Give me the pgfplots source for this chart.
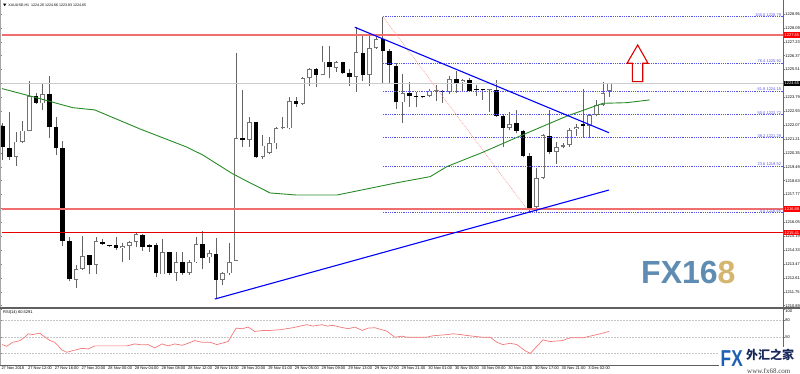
\documentclass[border=0pt]{standalone}
\usepackage{fontspec}
\setmainfont{Liberation Sans}
\newfontfamily\cjk{Noto Sans CJK SC}
\newfontfamily\serifw{Liberation Serif}
\usepackage{pgfplots}
\usepackage{pgfplotstable}
\pgfplotsset{compat=1.18}

\definecolor{wick}{RGB}{100,100,100}
\definecolor{bullline}{RGB}{115,115,115}
\definecolor{maGreen}{RGB}{40,140,40}
\definecolor{fibblue}{RGB}{85,85,235}
\definecolor{rsired}{RGB}{245,120,120}
\definecolor{lred}{RGB}{240,110,110}
\definecolor{fxblue}{RGB}{95,140,178}
\definecolor{fxgold}{RGB}{212,182,112}
\definecolor{logoblue}{RGB}{30,95,180}
\definecolor{logonavy}{RGB}{25,40,90}

\pgfplotstableread{
i O H L C
0 1222.04 1222.18 1219.91 1220.69
1 1220.63 1222.90 1219.91 1220.08
2 1220.08 1221.62 1219.54 1221.05
3 1221.05 1222.33 1220.94 1221.73
4 1221.73 1224.80 1221.73 1223.87
5 1223.87 1224.04 1223.38 1223.42
6 1223.42 1224.62 1223.01 1224.00
7 1224.00 1225.11 1221.25 1221.93
8 1221.97 1222.55 1220.22 1220.63
9 1220.63 1221.09 1214.59 1214.89
10 1214.89 1215.12 1212.40 1212.52
11 1212.48 1213.41 1211.96 1213.16
12 1213.16 1215.23 1213.10 1213.97
13 1214.01 1214.05 1212.85 1213.41
14 1213.41 1215.16 1212.85 1214.89
15 1214.85 1215.02 1214.65 1214.71
16 1214.59 1214.61 1214.54 1214.58
17 1214.65 1215.12 1214.34 1214.48
18 1214.46 1214.75 1213.62 1214.59
19 1214.59 1214.92 1213.72 1214.83
20 1214.83 1215.43 1214.50 1215.33
21 1215.27 1215.33 1214.28 1214.54
22 1214.65 1214.71 1214.23 1214.54
23 1214.65 1214.75 1212.64 1212.89
24 1212.83 1215.00 1212.83 1214.19
25 1214.19 1214.23 1212.79 1212.93
26 1212.93 1214.19 1212.44 1213.57
27 1213.57 1214.19 1212.79 1212.93
28 1212.93 1213.72 1212.79 1213.57
29 1213.57 1215.12 1213.55 1214.71
30 1214.69 1215.52 1213.14 1213.86
31 1213.88 1214.34 1213.51 1214.13
32 1214.09 1215.10 1211.28 1212.48
33 1212.48 1213.00 1212.17 1212.89
34 1212.89 1214.75 1212.79 1213.61
35 1213.66 1226.52 1213.66 1221.29
36 1221.29 1224.25 1220.74 1221.15
37 1221.15 1222.55 1220.74 1222.24
38 1222.24 1222.29 1220.05 1220.08
39 1220.12 1221.46 1219.97 1220.80
40 1220.33 1221.36 1220.28 1220.94
41 1220.94 1221.98 1220.59 1221.91
42 1221.87 1222.55 1221.81 1221.91
43 1221.87 1223.79 1221.81 1223.57
44 1223.59 1223.79 1223.17 1223.38
45 1223.36 1225.07 1223.32 1224.97
46 1224.97 1225.59 1224.49 1225.53
47 1225.53 1225.59 1224.41 1225.18
48 1225.18 1226.99 1225.18 1226.00
49 1225.96 1226.97 1224.97 1225.65
50 1225.59 1226.06 1225.38 1225.96
51 1225.96 1226.00 1225.24 1225.32
52 1225.28 1225.53 1224.49 1225.07
53 1225.07 1228.13 1224.14 1226.58
54 1226.56 1227.59 1224.82 1225.18
55 1225.18 1227.59 1224.49 1226.83
56 1226.83 1227.51 1226.79 1227.38
57 1227.38 1228.79 1224.62 1226.68
58 1226.68 1226.76 1224.62 1225.79
59 1225.75 1225.90 1223.07 1223.48
60 1223.48 1225.24 1222.22 1224.04
61 1224.04 1224.72 1223.21 1223.87
62 1223.85 1224.14 1223.17 1223.83
63 1223.79 1223.85 1223.73 1223.78
64 1223.90 1224.29 1223.79 1224.21
65 1224.17 1224.56 1223.59 1224.18
66 1224.21 1224.25 1223.46 1224.14
67 1224.14 1225.13 1223.98 1224.91
68 1224.95 1225.42 1224.08 1224.70
69 1224.72 1224.91 1224.14 1224.87
70 1224.87 1224.97 1224.14 1224.21
71 1224.25 1224.56 1223.87 1224.23
72 1224.25 1224.29 1223.63 1224.22
73 1224.22 1224.29 1222.90 1224.25
74 1224.25 1224.86 1222.60 1222.63
75 1222.63 1222.70 1220.74 1221.91
76 1221.91 1222.90 1221.77 1222.14
77 1222.18 1223.01 1221.56 1221.73
78 1221.73 1221.77 1220.08 1220.16
79 1220.18 1220.32 1216.65 1216.96
80 1217.02 1219.39 1216.71 1218.78
81 1218.78 1221.52 1218.71 1221.46
82 1221.42 1223.01 1220.28 1220.43
83 1220.39 1221.05 1219.66 1220.70
84 1220.74 1220.94 1220.63 1220.84
85 1220.84 1221.87 1220.74 1221.77
86 1221.81 1222.14 1221.40 1221.97
87 1222.12 1224.29 1221.31 1222.02
88 1222.02 1222.76 1221.25 1222.70
89 1222.70 1223.63 1222.63 1223.32
90 1223.32 1224.72 1223.28 1224.04
91 1224.20 1224.66 1223.83 1224.65
}\candles

\newcommand\tinyf{\fontsize{4}{4.5}\selectfont}

\begin{document}
\begin{tikzpicture}
\path[use as bounding box] (0,0) rectangle (800pt,-374pt);
\fill[white] (0,0) rectangle (800pt,-374pt);

% ---------------- main price panel ----------------
\begin{axis}[
  at={(2pt,-2pt)}, anchor=north west,
  width=781pt, height=305pt, scale only axis,
  xmin=-0.105, xmax=117, ymin=1210.808, ymax=1229.693,
  clip=false,
  axis line style={draw=none},
  xtick=\empty,
  ytick={1228.95,1228.09,1227.23,1226.37,1225.51,1224.65,1223.79,1222.93,1222.07,1221.21,1220.35,1219.49,1218.63,1217.77,1216.91,1216.05,1215.19,1214.33,1213.47,1212.61,1211.75,1210.89},
  yticklabel pos=right,
  y tick label style={font=\tinyf, anchor=west, inner sep=0.4pt, xshift=0.3pt},
  /pgf/number format/fixed, /pgf/number format/fixed zerofill,
  /pgf/number format/precision=2, /pgf/number format/1000 sep={},
  /pgf/number format/assume math mode=true,
  tick align=outside, major tick length=1.5pt,
  tick style={gray, line width=0.4pt},
]
% candle wicks
\addplot[draw=none, mark=none, forget plot,
  error bars/.cd, y dir=plus, y explicit, error mark=none,
  error bar style={draw=wick, line width=0.8pt}]
  table[x=i, y=L, y error expr=\thisrow{H}-\thisrow{L}] {\candles};
% bearish bodies
\addplot[draw=none, mark=none, forget plot,
  restrict expr to domain={\thisrow{O}-\thisrow{C}}{-0.001:100},
  error bars/.cd, y dir=plus, y explicit, error mark=none,
  error bar style={draw=black, line width=4.6pt}]
  table[x=i, y=C, y error expr={max(\thisrow{O}-\thisrow{C},0.07)}] {\candles};
% bullish bodies (outline)
\addplot[draw=none, mark=none, forget plot,
  restrict expr to domain={\thisrow{C}-\thisrow{O}}{0.0001:100},
  error bars/.cd, y dir=plus, y explicit, error mark=none,
  error bar style={draw=bullline, line width=4.6pt}]
  table[x=i, y=O, y error expr={max(\thisrow{C}-\thisrow{O},0.07)}] {\candles};
% bullish bodies (white fill)
\addplot[draw=none, mark=none, forget plot,
  restrict expr to domain={\thisrow{C}-\thisrow{O}}{0.13:100},
  error bars/.cd, y dir=plus, y explicit, error mark=none,
  error bar style={draw=white, line width=3.0pt}]
  table[x=i, y expr=\thisrow{O}+0.05, y error expr={\thisrow{C}-\thisrow{O}-0.1}] {\candles};

% current price line
\addplot[gray!40, line width=0.6pt] coordinates {(-0.105,1224.65) (117,1224.65)};
% support / resistance lines
\addplot[lred, line width=1.5pt] coordinates {(-0.105,1227.65) (117,1227.65)};
\addplot[lred, line width=1.5pt] coordinates {(-0.105,1216.88) (117,1216.88)};
\addplot[red!90!black, line width=1.0pt] coordinates {(-0.105,1215.41) (117,1215.41)};
% Fibonacci levels
\addplot[fibblue, line width=0.6pt, dash pattern=on 0.8pt off 1pt] coordinates {(57,1228.79) (117,1228.79)};
\addplot[fibblue, line width=0.6pt, dash pattern=on 0.8pt off 1pt] coordinates {(57,1225.92) (117,1225.92)};
\addplot[fibblue, line width=0.6pt, dash pattern=on 0.8pt off 1pt] coordinates {(57,1224.15) (117,1224.15)};
\addplot[fibblue, line width=0.6pt, dash pattern=on 0.8pt off 1pt] coordinates {(57,1222.72) (117,1222.72)};
\addplot[fibblue, line width=0.6pt, dash pattern=on 0.8pt off 1pt] coordinates {(57,1221.29) (117,1221.29)};
\addplot[fibblue, line width=0.6pt, dash pattern=on 0.8pt off 1pt] coordinates {(57,1219.52) (117,1219.52)};
\addplot[fibblue, line width=0.6pt, dash pattern=on 0.8pt off 1pt] coordinates {(57,1216.65) (117,1216.65)};
\addplot[red!45, line width=0.6pt, dash pattern=on 0.8pt off 1pt] coordinates {(57,1228.79) (79,1216.65)};
% moving average
\addplot[maGreen, line width=0.9pt] coordinates {
(-0.1,1224.33) (4.5,1223.83) (10.5,1223.15) (13.8,1223.01) (20.6,1221.83)
(27.6,1220.71) (30,1220.22) (34.3,1219.10) (37.1,1218.49) (40.1,1217.87)
(44.1,1217.74) (50.1,1217.74) (55.1,1218.16) (59.1,1218.50) (64.1,1218.88)
(66.6,1219.50) (70.1,1220.08) (71.6,1220.32) (77.6,1221.40) (84.6,1222.63)
(90.0,1223.42) (93.6,1223.46) (97.0,1223.63)};
% trend lines
\addplot[blue, line width=1.1pt] coordinates {(52.8,1228.13) (90.9,1221.60)};
\addplot[blue, line width=1.1pt] coordinates {(31.8,1211.30) (90.9,1218.05)};

% fib labels
\node[font=\tinyf, text=fibblue, anchor=south east, inner sep=0.3pt, xshift=-1.5pt] at (axis cs:117,1228.79) {100.0 1228.79};
\node[font=\tinyf, text=fibblue, anchor=south east, inner sep=0.3pt, xshift=-1.5pt] at (axis cs:117,1225.92) {76.4 1225.92};
\node[font=\tinyf, text=fibblue, anchor=south east, inner sep=0.3pt, xshift=-1.5pt] at (axis cs:117,1224.15) {61.8 1224.15};
\node[font=\tinyf, text=fibblue, anchor=south east, inner sep=0.3pt, xshift=-1.5pt] at (axis cs:117,1222.72) {50.0 1222.72};
\node[font=\tinyf, text=fibblue, anchor=south east, inner sep=0.3pt, xshift=-1.5pt] at (axis cs:117,1221.29) {38.2 1221.29};
\node[font=\tinyf, text=fibblue, anchor=south east, inner sep=0.3pt, xshift=-1.5pt] at (axis cs:117,1219.52) {23.6 1219.52};
\node[font=\tinyf, text=fibblue, anchor=south east, inner sep=0.3pt, xshift=-1.5pt] at (axis cs:117,1216.65) {0.0 1216.65};
\coordinate (rA) at (axis cs:117,1227.65);
\coordinate (rB) at (axis cs:117,1216.88);
\coordinate (rC) at (axis cs:117,1215.41);
\coordinate (cur) at (axis cs:117,1224.65);
\end{axis}

% price label boxes
\node[fill=red, text=white, font=\tinyf, anchor=west, inner sep=0.6pt, minimum width=16.5pt, minimum height=5.2pt, xshift=0.5pt] at (rA) {1227.65};
\node[fill=red, text=white, font=\tinyf, anchor=west, inner sep=0.6pt, minimum width=16.5pt, minimum height=5.2pt, xshift=0.5pt] at (rB) {1216.88};
\node[fill=red, text=white, font=\tinyf, anchor=west, inner sep=0.6pt, minimum width=16.5pt, minimum height=5.2pt, xshift=0.5pt] at (rC) {1215.41};
\node[fill=black, text=white, font=\tinyf, anchor=west, inner sep=0.6pt, minimum width=16.5pt, minimum height=5.2pt, xshift=0.5pt] at (cur) {1224.65};

% ---------------- RSI panel ----------------
\begin{axis}[
  at={(2pt,-309.2pt)}, anchor=north west,
  width=781pt, height=55.6pt, scale only axis,
  xmin=-0.105, xmax=117, ymin=0, ymax=100,
  clip=false,
  axis line style={draw=none},
  ytick={20,50,80},
  yticklabels={,50,80},
  extra y ticks={100},
  extra y tick style={grid=none, tick label style={yshift=-1.8pt}},
  ymajorgrids,
  grid style={gray!45, dash pattern=on 1.5pt off 1.5pt, line width=0.4pt},
  yticklabel pos=right,
  y tick label style={font=\tinyf, anchor=west, inner sep=0.4pt, xshift=0.3pt},
  /pgf/number format/assume math mode=true,
  xtick={0,4,...,88},
  xticklabels={27 Nov 2018,27 Nov 12:00,27 Nov 16:00,27 Nov 20:00,28 Nov 00:00,28 Nov 04:00,28 Nov 08:00,28 Nov 12:00,28 Nov 16:00,28 Nov 20:00,29 Nov 01:00,29 Nov 05:00,29 Nov 09:00,29 Nov 13:00,29 Nov 17:00,29 Nov 21:00,30 Nov 01:00,30 Nov 05:00,30 Nov 09:00,30 Nov 13:00,30 Nov 17:00,30 Nov 21:00,3 Dec 02:00},
  x tick label style={font=\tinyf, anchor=north west, inner sep=0.4pt, xshift=-1.8pt},
  tick align=outside, major tick length=1.5pt,
  tick style={gray, line width=0.4pt},
]
\addplot[rsired, line width=0.7pt] coordinates {
(-0.1,36.4) (0.6,33.3) (1.5,40.5) (2.6,43.6) (3.3,49.6) (3.8,55.8) (4.5,54.5)
(5.6,56.9) (6.0,52.7) (7.1,43.6) (7.8,40.5) (8.9,26.7) (9.6,22.4) (10.5,25.5)
(11.9,29.6) (12.8,28.5) (13.8,34) (15.6,34) (18.6,34) (19.8,37.6) (20.9,35.8)
(21.8,36.4) (22.8,30.4) (23.9,37.6) (24.8,34) (25.8,37.6) (26.9,35.1) (27.8,38.7)
(28.8,43.6) (29.9,40.5) (31.1,40.5) (32.1,36.4) (33.8,41.8) (35.0,66) (35.9,64.9)
(36.8,67.8) (37.8,60) (39.0,61.8) (40.1,61.8) (41.6,63.1) (43.5,66.7) (45.6,72.2)
(46.5,69.6) (47.9,72.2) (48.6,69.6) (49.5,70.9) (50.6,67.8) (51.8,64.9) (52.8,67.8)
(53.9,61.8) (54.8,66) (55.8,66.7) (57.6,60.5) (58.8,49.6) (59.9,51.5) (60.6,49.6)
(63.6,49.6) (64.5,52.2) (66.8,54.5) (67.5,55.8) (68.6,54.5) (69.6,52.7) (71.9,49.6)
(73.1,49.6) (74.1,40.5) (75.0,36.4) (76.1,38.7) (77.1,36.4) (78.3,25.5) (79.1,20.5)
(81.0,44.9) (82.1,41.8) (83.9,43.6) (85.1,48.5) (87.0,48.5) (89.6,55.8) (90.9,60)};
\end{axis}

% ---------------- frame lines ----------------
\draw[gray!70, line width=1pt] (0.5pt,0) -- (0.5pt,-365pt);
\draw[gray!80!black, line width=0.7pt] (783pt,0) -- (783pt,-365pt);
\draw[gray!75!black, line width=1.6pt] (0,-307.9pt) -- (800pt,-307.9pt);
\draw[gray!75!black, line width=0.8pt] (0,-364.9pt) -- (783pt,-364.9pt);

% headers
\fill[black] (3pt,-3.6pt) -- (6.4pt,-3.6pt) -- (4.7pt,-6.2pt) -- cycle;
\node[font=\fontsize{3.6}{4}\selectfont, anchor=base west, inner sep=0pt] at (8.3pt,-6.3pt) {XAUUSD,H1\ \ 1224.20 1224.66 1223.83 1224.65};
\node[font=\tinyf, anchor=base west, inner sep=0pt] at (3pt,-313.6pt) {RSI(14) 60.5291};

% red up arrow
\draw[red!85!black, line width=1.1pt, line join=miter] (637.7pt,-45pt) -- (648pt,-63.3pt) -- (642.7pt,-63.3pt) -- (642.7pt,-81.7pt) -- (632.3pt,-81.7pt) -- (632.3pt,-63.3pt) -- (627pt,-63.3pt) -- cycle;

% watermark
\node[anchor=base west, inner sep=0pt, font=\bfseries\fontsize{32}{32}\selectfont] at (641pt,-283pt) {\textcolor{fxblue}{FX16}\textcolor{fxgold}{8}};

% bottom-right logo
\fill[white] (719pt,-347pt) rectangle (800pt,-374pt);
\node[anchor=base west, inner sep=0pt, text=logoblue, font=\bfseries\fontsize{23}{23}\selectfont] at (720.5pt,-366.8pt) {\scalebox{0.75}[1]{FX}};
\node[anchor=base west, inner sep=0pt, text=logonavy, font=\cjk\bfseries\fontsize{12}{12}\selectfont] at (746pt,-359.6pt) {外汇之家};
\node[anchor=base west, inner sep=0pt, text=black!75, font=\serifw\fontsize{7}{7.5}\selectfont] at (747pt,-373.4pt) {www.fx68.com};
\end{tikzpicture}
\end{document}
